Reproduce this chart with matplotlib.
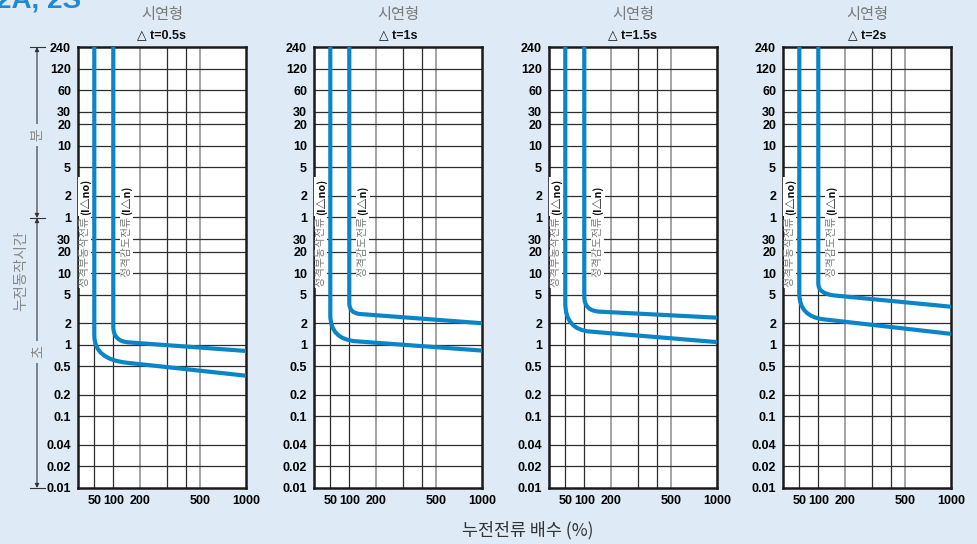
import numpy as np
import matplotlib.pyplot as plt
from matplotlib.path import Path
from matplotlib.patches import PathPatch, FancyArrowPatch
from matplotlib.lines import Line2D

plt.rcParams['font.family'] = ['Noto Sans CJK KR', 'DejaVu Sans']

# ---- data ----
delays = ['0.5s', '1s', '1.5s', '2s']

y_ticks = [14400, 7200, 3600, 1800, 1200, 600, 300, 120, 60,
           30, 20, 10, 5, 2, 1, 0.5, 0.2, 0.1, 0.04, 0.02, 0.01]   # seconds
y_labels = ['240', '120', '60', '30', '20', '10', '5', '2', '1',
            '30', '20', '10', '5', '2', '1', '0.5', '0.2', '0.1', '0.04', '0.02', '0.01']
x_ticks = [50, 100, 200, 500, 1000]
x_grid = [50, 100, 200, 300, 400, 500]

# rated non-operating current curve (I△no): vertical at 50 %
no_x = 50
no_bend = [1.35, 2.6, 3.8, 5.2]
no_corner = [0.62, 1.2, 1.63, 2.49]
no_knee_x = [145, 118, 116, 114]
no_knee_t = [0.56, 1.12, 1.53, 2.27]
no_end = [0.37, 0.83, 1.09, 1.42]

# rated sensitivity current curve (I△n): vertical at 100 %
n_x = 100
n_bend = [1.8, 3.8, 4.7, 7.2]
n_corner = [1.11, 2.77, 2.96, 5.2]
n_knee_x = [150, 132, 150, 148]
n_knee_t = [1.08, 2.69, 2.9, 4.9]
n_end = [0.82, 2.0, 2.39, 3.4]

# ---- figure layout (pixels) ----
W, H = 978, 544
BG = '#deeaf5'
BLUE = '#0a86c8'
NUM_FONT = ['Liberation Sans Narrow', 'Liberation Sans', 'DejaVu Sans']
fig = plt.figure(figsize=(W / 100, H / 100), dpi=100, facecolor=BG)


def fx(px):
    return px / W


def fy(py):
    return 1 - py / H


# the x axis of the original is log-like but stretched at the low end
XK = np.log10([28, 50, 100, 200, 1000])
PK = [0.0, 0.097, 0.210, 0.369, 1.0]


def xfwd(x):
    return np.interp(np.log10(np.clip(x, 1e-6, None)), XK, PK)


def xinv(p):
    return 10 ** np.interp(p, PK, XK)


def curve(ax, xv, t_bend, t_corner, kx, kt, t_end):
    verts = [(xv, 14400), (xv, t_bend), (xv, t_corner), (kx, kt), (1000, t_end)]
    codes = [Path.MOVETO, Path.LINETO, Path.CURVE3, Path.CURVE3, Path.LINETO]
    ax.add_patch(PathPatch(Path(verts, codes), fill=False, ec=BLUE, lw=3.0,
                           capstyle='butt', joinstyle='round', zorder=4))


def vlabel(ax, x, y, kor, tag):
    t = ax.text(x, y, kor, transform=ax.transAxes, rotation=90, rotation_mode='anchor',
                ha='left', va='center', fontsize=7.8, color='#7a7a7a', zorder=6,
                bbox=dict(fc='white', ec='none', pad=1.0))
    ax.annotate(tag, xy=(0.5, 1.0), xycoords=t, ha='center', va='bottom', rotation=90,
                fontsize=7.8, fontweight='bold', color='#111111', zorder=6,
                bbox=dict(fc='white', ec='none', pad=1.0))


lefts = [78, 314, 549, 783]
for i, lp in enumerate(lefts):
    ax = fig.add_axes([fx(lp), fy(488), 168 / W, 441 / H])
    ax.set_facecolor('white')
    ax.set_xscale('function', functions=(xfwd, xinv))
    ax.set_yscale('log')
    ax.set_xlim(28, 1000)
    ax.set_ylim(0.01, 14400)

    for g in x_grid:
        gray = g in (200, 500)
        ax.axvline(g, color='#8c8c8c' if gray else '#2e2e2e', lw=1.1 if gray else 0.9, zorder=1)
    for g in y_ticks[1:-1]:
        ax.axhline(g, color='#2e2e2e', lw=0.9, zorder=1)

    ax.set_yticks(y_ticks)
    ax.set_yticklabels(y_labels)
    ax.set_xticks(x_ticks)
    ax.set_xticklabels([str(v) for v in x_ticks])
    ax.minorticks_off()
    ax.tick_params(length=0, pad=5, labelsize=9)
    for lab in ax.get_xticklabels() + ax.get_yticklabels():
        lab.set_family(NUM_FONT)
        lab.set_fontweight('bold')
    for s in ax.spines.values():
        s.set_linewidth(1.8)
        s.set_color('#1a1a1a')

    curve(ax, no_x, no_bend[i], no_corner[i], no_knee_x[i], no_knee_t[i], no_end[i])
    curve(ax, n_x, n_bend[i], n_corner[i], n_knee_x[i], n_knee_t[i], n_end[i])

    vlabel(ax, 0.042, 0.456, '정격부동작전류 ', '(I△no)')
    vlabel(ax, 0.29, 0.478, '정격감도전류 ', '(I△n)')

    cx = lp + 84
    fig.text(fx(cx), fy(15), '시연형', ha='center', va='center', fontsize=11, color='#7a7a7a')
    fig.text(fx(cx), fy(35), '△ t=' + delays[i], ha='center', va='center', fontsize=9,
             fontweight='bold', color='#111111', family=NUM_FONT)

# left-hand time axis annotation
ax_x = 37
for a, b in [(218, 47), (218, 488)]:
    fig.add_artist(FancyArrowPatch((fx(ax_x), fy(a)), (fx(ax_x), fy(b)), transform=fig.transFigure,
                                   arrowstyle='<|-|>', mutation_scale=6, lw=0.8, color='#333333',
                                   shrinkA=0, shrinkB=0))
for yy in [47, 218, 488]:
    fig.add_artist(Line2D([fx(30), fx(45)], [fy(yy), fy(yy)], transform=fig.transFigure,
                          lw=0.8, color='#333333'))
fig.text(fx(ax_x), fy(135), '분', rotation=90, ha='center', va='center', fontsize=10, color='#888888',
         bbox=dict(fc=BG, ec='none', pad=3))
fig.text(fx(ax_x), fy(352), '초', rotation=90, ha='center', va='center', fontsize=10, color='#888888',
         bbox=dict(fc=BG, ec='none', pad=3))
fig.text(fx(21), fy(271), '누전동작시간', rotation=90, ha='center', va='center', fontsize=10.5,
         color='#888888')

fig.text(fx(528), fy(530), '누전전류 배수 (%)', ha='center', va='center', fontsize=12.5, color='#333333')
fig.text(fx(-4), fy(7), '2A, 2S', ha='left', va='baseline', fontsize=20, fontweight='bold',
         color='#1f8ad2', family=NUM_FONT)

fig.savefig('out.png', dpi=100, facecolor=BG)
